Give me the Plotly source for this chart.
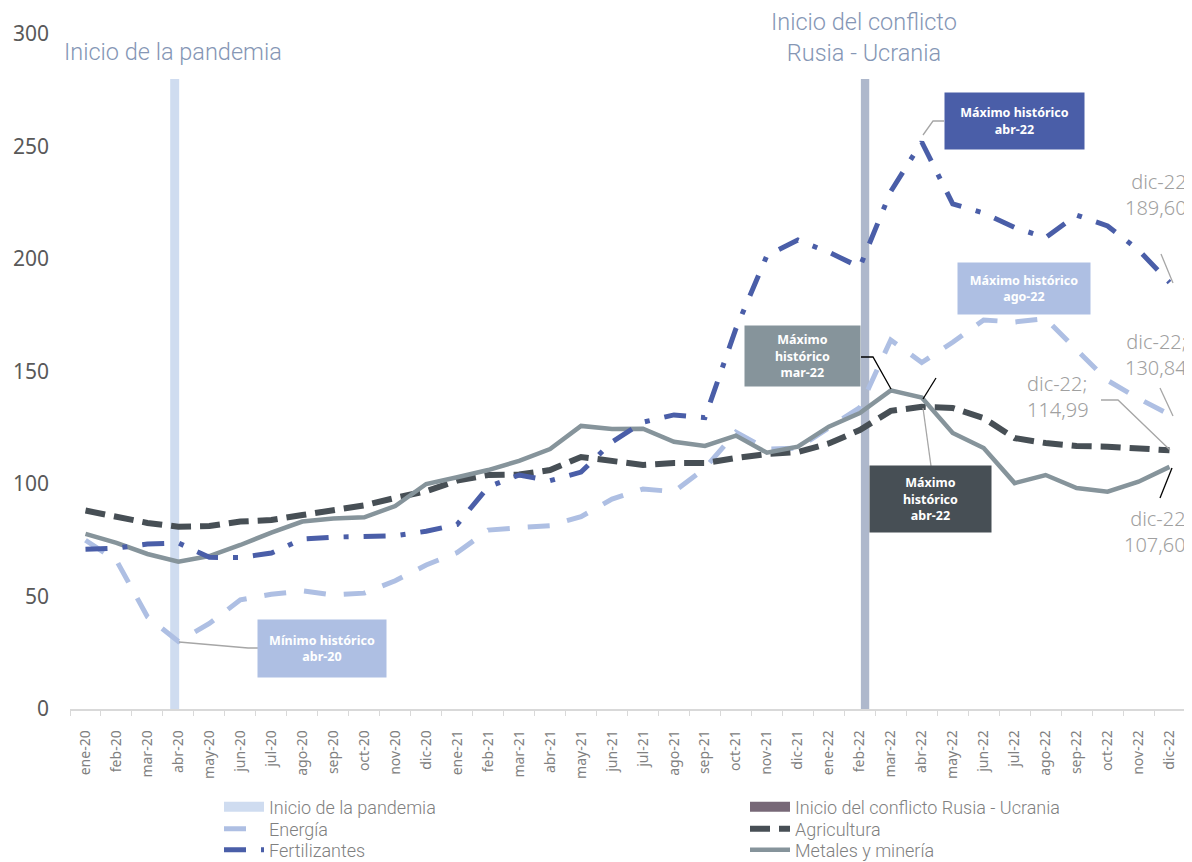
import plotly.graph_objects as go

meses = ["ene-20", "feb-20", "mar-20", "abr-20", "may-20", "jun-20", "jul-20", "ago-20",
         "sep-20", "oct-20", "nov-20", "dic-20", "ene-21", "feb-21", "mar-21", "abr-21",
         "may-21", "jun-21", "jul-21", "ago-21", "sep-21", "oct-21", "nov-21", "dic-21",
         "ene-22", "feb-22", "mar-22", "abr-22", "may-22", "jun-22", "jul-22", "ago-22",
         "sep-22", "oct-22", "nov-22", "dic-22"]

energia = [75, 66, 41, 30, 38, 48.5, 51, 52.5, 50.7, 51.5, 57, 64,
           69.5, 79.5, 80.6, 81.5, 85.5, 93.3, 97.8, 96.6, 107, 123, 115.5, 116,
           125, 134, 164, 154, 163, 172.9, 172, 173.5, 159.6, 146, 138, 130.84]

agricultura = [88.2, 85.5, 82.7, 81, 81.3, 83.3, 84, 86.2, 88.1, 90.5, 93.8, 96.8,
               101.5, 104, 104.2, 106.2, 112, 110, 108.5, 109.3, 109.3, 111.6, 113.3, 114.2,
               118, 124, 132.5, 134.3, 133.8, 129.3, 120.4, 118.2, 116.9, 116.6, 116, 114.99]

fertilizantes = [71, 71.5, 73.3, 73.8, 67.4, 67.3, 69.3, 75.5, 76.4, 76.5, 77, 79,
                 82, 98.7, 104, 101.5, 105.3, 118.7, 127.5, 130.7, 129.5, 169, 201.5, 208.4,
                 203, 196.4, 230, 252, 224.5, 220.4, 214, 209.5, 219.5, 214.7, 204, 189.6]

metales = [77.8, 73.8, 68.9, 65.5, 68, 72.9, 78.4, 83.3, 84.7, 85.2, 90.2, 100,
           103, 106.2, 110.3, 115.5, 125.8, 124.4, 124.6, 118.8, 116.9, 121.5, 113.9, 116.6,
           125.5, 131.5, 141.6, 138.4, 122.7, 116, 100.4, 104, 98.2, 96.6, 101, 107.6]

eventos_mes = ["abr-20", "feb-22"]
eventos_altura = [280, 280]
eventos_nombre = ["Inicio de la pandemia", "Inicio del conflicto Rusia - Ucrania"]

# la pagina deja 8px de margen en el body: la figura empieza en (8, 8) de la ventana
O = 8
W, H = 1192 - O, 862 - O
X_IZQ, X_DER, Y_SUP, Y_INF = 70, 1185, 34, 709   # area de trazado en px de ventana
ML, MR, MT, MB = X_IZQ - O, W - (X_DER - O), Y_SUP - O, H - (Y_INF - O)
PW, PH = X_DER - X_IZQ, Y_INF - Y_SUP

def px(p):
    return (p - X_IZQ) / PW
def py(p):
    return (Y_INF - p) / PH

TITULO = "Roboto, sans-serif"
LIGHT = "Noto Sans, sans-serif"
GRIS = "#a0a0a0"

fig = go.Figure()

# barras verticales de eventos
fig.add_trace(go.Bar(x=[eventos_mes[0]], y=[eventos_altura[0]], width=0.29, offset=-0.265,
                     marker=dict(color="#cfdcf0", line_width=0), showlegend=False, hoverinfo="skip"))
fig.add_trace(go.Bar(x=[eventos_mes[1]], y=[eventos_altura[1]], width=0.27, offset=0.035,
                     marker=dict(color="#aeb8cc", line_width=0), showlegend=False, hoverinfo="skip"))

# entradas de leyenda de los eventos
fig.add_trace(go.Scatter(x=[None], y=[None], mode="lines", name=eventos_nombre[0],
                         line=dict(color="#cfdcf0", width=10), legend="legend"))
fig.add_trace(go.Scatter(x=[None], y=[None], mode="lines", name=eventos_nombre[1],
                         line=dict(color="#776877", width=10), legend="legend2"))

fig.add_trace(go.Scatter(x=meses, y=energia, mode="lines", name="Energía", legend="legend3",
                         line=dict(color="#aebfe3", width=5, dash="22px,18px")))
fig.add_trace(go.Scatter(x=meses, y=agricultura, mode="lines", name="Agricultura", legend="legend4",
                         line=dict(color="#474f55", width=6, dash="20px,9px")))
fig.add_trace(go.Scatter(x=meses, y=metales, mode="lines", name="Metales y minería", legend="legend6",
                         line=dict(color="#86949b", width=4.5)))
fig.add_trace(go.Scatter(x=meses, y=fertilizantes, mode="lines", name="Fertilizantes", legend="legend5",
                         line=dict(color="#4a5ea8", width=5, dash="22px,15px,5px,15px")))

annotations = []

def texto(t, x, y, fuente, xanchor="center", align="center"):
    annotations.append(dict(x=px(x), y=py(y), xref="paper", yref="paper", text=t,
                            showarrow=False, xanchor=xanchor, yanchor="middle",
                            align=align, font=fuente))

# titulos de eventos
fuente_titulo = dict(family=TITULO, size=23.5, color="#8596b5", weight=300)
texto("Inicio de la pandemia", 173, 52, fuente_titulo)
texto("Inicio del conflicto<br>Rusia - Ucrania", 864, 37, fuente_titulo)

# cajas de maximos y minimos
def caja(t, x0, y0, x1, y1, color):
    annotations.append(dict(x=px((x0 + x1) / 2), y=py((y0 + y1) / 2), xref="paper", yref="paper",
                            text=t, showarrow=False, width=x1 - x0, height=y1 - y0,
                            xanchor="center", yanchor="middle",
                            bgcolor=color, borderpad=0, align="center", valign="middle",
                            font=dict(family="Noto Sans, sans-serif", size=12.5, color="white",
                                      weight="bold")))

caja("Máximo histórico<br>abr-22", 945, 93, 1084, 149, "#4a5ea8")
caja("Máximo histórico<br>ago-22", 958, 263, 1090, 314, "#aebfe3")
caja("Máximo<br>histórico<br>mar-22", 745, 326, 860, 386, "#86949b")
caja("Máximo<br>histórico<br>abr-22", 870, 466, 991, 532, "#474f55")
caja("Mínimo histórico<br>abr-20", 258, 620, 386, 677, "#aebfe3")

# etiquetas de dic-22
fuente_dato = dict(family=LIGHT, size=20, color=GRIS, weight=300)
texto("dic-22<br>189,60", 1189, 194, fuente_dato, "right", "right")
texto("dic-22;<br>130,84", 1189, 354, fuente_dato, "right", "right")
texto("dic-22;<br>114,99", 1025, 396, fuente_dato, "left", "left")
texto("dic-22<br>107,60", 1188, 531, fuente_dato, "right", "right")

# lineas guia
def guia(puntos, color):
    path = "M " + " L ".join(f"{px(a)},{py(b)}" for a, b in puntos)
    return dict(type="path", path=path, xref="paper", yref="paper",
                line=dict(color=color, width=1.3), layer="above")

shapes = [
    guia([(944, 121), (933, 121), (923, 135)], "#a6a6a6"),
    guia([(861, 357), (873, 357), (891, 389)], "#000000"),
    guia([(931, 466), (923, 408)], "#a6a6a6"),
    guia([(936, 378), (923, 399)], "#000000"),
    guia([(258, 648), (248, 648), (179, 642)], "#a6a6a6"),
    guia([(1161, 254), (1173, 283)], "#a6a6a6"),
    guia([(1160, 388), (1173, 416)], "#a6a6a6"),
    guia([(1101, 400), (1118, 400), (1170, 450)], "#a6a6a6"),
    guia([(1160, 498), (1172, 468)], "#000000"),
]

# leyenda: una por entrada, en dos columnas
def leyenda(texto_x, fila_y):
    return dict(xref="paper", yref="paper", x=px(texto_x - 50), y=py(fila_y),
                xanchor="left", yanchor="middle", orientation="v", itemwidth=40,
                bgcolor="rgba(0,0,0,0)", borderwidth=0,
                font=dict(family=TITULO, size=18, color="#808080", weight=300))

fig.update_layout(
    width=W, height=H,
    paper_bgcolor="white", plot_bgcolor="white",
    margin=dict(l=ML, r=MR, t=MT, b=MB, autoexpand=False),
    barmode="overlay",
    font=dict(family=LIGHT, color="#595959"),
    annotations=annotations,
    shapes=shapes,
    showlegend=True,
    legend=leyenda(269, 807),
    legend2=leyenda(795, 807),
    legend3=leyenda(269, 829),
    legend4=leyenda(795, 829),
    legend5=leyenda(269, 850),
    legend6=leyenda(795, 850),
)

fig.update_xaxes(type="category", categoryorder="array", categoryarray=meses,
                 range=[-0.5, 35.5], tickangle=-90, tickson="boundaries",
                 ticks="outside", ticklen=5, tickcolor="#d9d9d9",
                 showline=True, linecolor="#d9d9d9", linewidth=1.5,
                 showgrid=False, ticklabelstandoff=14, automargin=False,
                 tickfont=dict(family=LIGHT, size=14, color="#808080"))
fig.update_yaxes(range=[0, 300], tickvals=[0, 50, 100, 150, 200, 250, 300],
                 showgrid=False, zeroline=False, showline=False, ticks="",
                 ticklabelstandoff=20, automargin=False,
                 tickfont=dict(family=LIGHT, size=21, color="#595959"))

fig.write_html("out.html")
